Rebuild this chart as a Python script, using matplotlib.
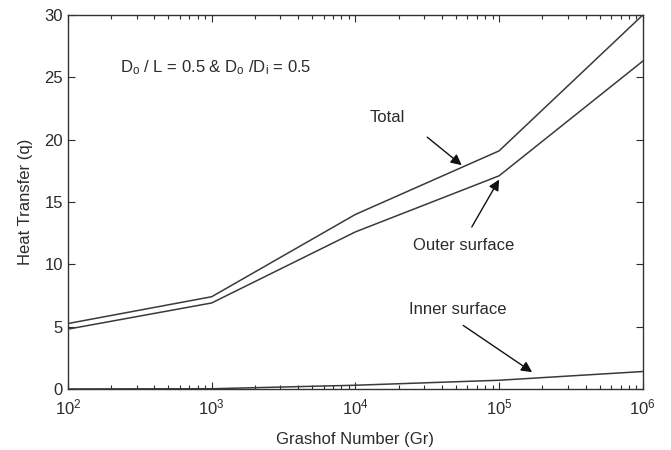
import matplotlib
matplotlib.use("Agg")
import matplotlib.pyplot as plt
from matplotlib.ticker import LogLocator, FixedLocator


# ── data ─────────────────────────────────────────────────────────────────────
grashof = [1e2, 1e3, 1e4, 1e5, 1e6]
q_total = [5.25, 7.4, 14.0, 19.1, 30.0]
q_outer = [4.8, 6.9, 12.6, 17.1, 26.3]
q_inner = [0.0, 0.02, 0.3, 0.7, 1.4]

y_ticks = [0, 5, 10, 15, 20, 25, 30]

plt.rcParams["font.family"] = ["Liberation Sans", "DejaVu Sans"]
plt.rcParams["mathtext.default"] = "regular"

line_color = "#3a3a3a"
text_color = "#2b2b2b"

fig = plt.figure(figsize=(6.71, 4.5), dpi=100)
ax = fig.add_axes([0.1013, 0.1356, 0.8567, 0.8311])

for series in (q_total, q_outer, q_inner):
    ax.plot(grashof, series, color=line_color, lw=1.1)

ax.set_xscale("log")
ax.set_xlim(1e2, 1e6)
ax.set_ylim(0, 30)
ax.yaxis.set_major_locator(FixedLocator(y_ticks))
ax.xaxis.set_major_locator(LogLocator(base=10, numticks=10))
ax.xaxis.set_minor_locator(LogLocator(base=10, subs=range(2, 10), numticks=50))

ax.tick_params(which="both", direction="in", top=True, right=True,
               labelsize=12, colors=text_color)
ax.tick_params(which="major", length=5, width=0.8)
ax.tick_params(which="minor", length=3, width=0.8)
ax.tick_params(axis="x", pad=6)
for spine in ax.spines.values():
    spine.set_color("#333333")
    spine.set_linewidth(1.0)

ax.set_xlabel("Grashof Number (Gr)", fontsize=12, color=text_color, labelpad=11)
ax.set_ylabel("Heat Transfer (q)", fontsize=12, color=text_color, labelpad=8)

ax.text(10 ** 2.36, 25.8,
        r"D$_{o}$ / L = 0.5 & D$_{o}$ /D$_{i}$ = 0.5",
        fontsize=12, color=text_color, ha="left", va="center")

# ── annotations ──────────────────────────────────────────────────────────────
arrow = dict(arrowstyle="-|>", color="#111111", lw=1.0,
             mutation_scale=16, shrinkA=0, shrinkB=0)

ax.text(10 ** 4.22, 21.8, "Total", fontsize=12, color=text_color,
        ha="center", va="center")
ax.annotate("", xy=(10 ** 4.74, 17.95), xytext=(10 ** 4.50, 20.2),
            arrowprops=arrow)

ax.text(10 ** 4.75, 11.5, "Outer surface", fontsize=12, color=text_color,
        ha="center", va="center")
ax.annotate("", xy=(10 ** 5.0, 16.8), xytext=(10 ** 4.81, 13.0),
            arrowprops=arrow)

ax.text(10 ** 4.71, 6.4, "Inner surface", fontsize=12, color=text_color,
        ha="center", va="center")
ax.annotate("", xy=(10 ** 5.23, 1.35), xytext=(10 ** 4.75, 5.1),
            arrowprops=arrow)

fig.savefig("out.png", dpi=100)
